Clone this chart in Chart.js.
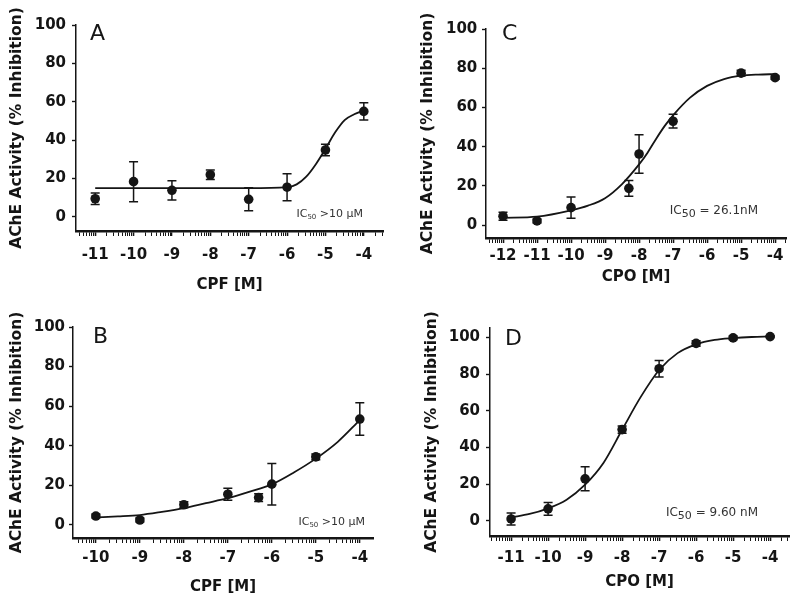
<!DOCTYPE html>
<html>
<head>
<meta charset="utf-8">
<script src="https://cdn.jsdelivr.net/npm/chart.js@4.4.1/dist/chart.umd.min.js"></script>
<style>
  body { margin: 0; background: #fff; }
  #wrap { position: relative; width: 800px; height: 603px; overflow: hidden; }
  canvas { position: absolute; }
</style>
</head>
<body>
<div id="wrap">
  <canvas id="chartA" width="400" height="300" style="left:0;top:0"></canvas>
  <canvas id="chartC" width="400" height="300" style="left:400px;top:0"></canvas>
  <canvas id="chartB" width="400" height="303" style="left:0;top:300px"></canvas>
  <canvas id="chartD" width="400" height="303" style="left:400px;top:300px"></canvas>
</div>
<script>
// AChE inhibition by CPF / CPO, log molar concentration vs % inhibition

// Panel A - CPF
const doseA = [-11, -10, -9, -8, -7, -6, -5, -4];
const inhibA = [9.5, 18.4, 13.9, 22.0, 9.2, 15.5, 34.9, 55.0];
const errA = [3.0, 10.4, 5.0, 2.5, 6.0, 7.0, 3.0, 4.5];
const fitXA = [-11, -10, -9, -8, -7, -6, -5.75, -5.5, -5.25, -5, -4.75, -4.5, -4.25, -4];
const fitYA = [15, 15, 15, 15, 15, 15.5, 17, 21, 27.5, 35.5, 44, 50.5, 53.5, 55.5];

// Panel B - CPF
const doseB = [-10, -9, -8, -7, -6.3, -6, -5, -4];
const inhibB = [4.5, 2.5, 10.2, 15.5, 13.8, 20.6, 34.4, 53.5];
const errB = [1.0, 1.0, 1.5, 3.0, 2.0, 10.5, 1.5, 8.2];
const fitXB = [-10, -9.5, -9, -8.5, -8, -7.5, -7, -6.5, -6, -5.5, -5, -4.5, -4];
const fitYB = [3.8, 4.3, 5, 6.6, 8.5, 11, 13.5, 16.8, 20.5, 26.5, 33.5, 42, 53];

// Panel C - CPO
const doseC = [-12, -11, -10, -8.3, -8, -7, -5, -4];
const inhibC = [4.6, 2.2, 9.0, 18.8, 36.3, 53.0, 77.5, 75.2];
const errC = [2.0, 1.0, 5.4, 4.0, 9.8, 3.5, 1.5, 0.8];
const fitXC = [-12, -11, -10, -9.5, -9, -8.5, -8, -7.75, -7.5, -7.25, -7, -6.5, -6, -5.5, -5, -4.5, -4];
const fitYC = [3.8, 4.4, 7.6, 10, 13.8, 21, 31, 37, 44, 50.5, 56, 65, 71, 74.5, 76.2, 76.8, 77];

// Panel D - CPO
const doseD = [-11, -10, -9, -8, -7, -6, -5, -4];
const inhibD = [1.1, 6.6, 23.0, 49.8, 83.0, 96.8, 99.8, 100.5];
const errD = [3.3, 3.5, 6.5, 2.0, 4.5, 1.5, 1.0, 0.5];
const fitXD = [-11, -10.5, -10, -9.5, -9, -8.5, -8, -7.5, -7, -6.5, -6, -5.5, -5, -4.5, -4];
const fitYD = [2, 3.8, 6.9, 11.6, 19.8, 31.8, 49.7, 67.5, 82.3, 91.5, 96.3, 98.7, 99.7, 100.3, 100.6];

const yTickValues = [0, 20, 40, 60, 80, 100];
const yTitle = "AChE Activity (% Inhibition)";

const INK = "#151515";
const FONT = "'DejaVu Sans', 'Liberation Sans', sans-serif";

// one entry per panel, layout tuned to the reference figure
const panels = [
  {
    id: "chartA", letter: "A", dose: doseA, inhib: inhibA, err: errA, fitX: fitXA, fitY: fitYA,
    xTitle: "CPF [M]", xMin: -11.5, xMax: -3.5, yMin: -7.3, yMax: 100,
    yWidth: 76, xHeight: 69, padRight: 17, padTop: 25,
    xLabelPad: 10, xTitlePad: 6, yLabelPad: 6, yTitlePad: 7.7,
    letterDx: 14, letterDy: 15,
    note: [["IC", 11, 0], ["50", 7, 2], [" >10 \u03bcM", 11, 0]], noteDx: 20, noteY: 0,
  },
  {
    id: "chartC", letter: "C", dose: doseC, inhib: inhibC, err: errC, fitX: fitXC, fitY: fitYC,
    xTitle: "CPO [M]", xMin: -12.5, xMax: -3.68, yMin: -6.5, yMax: 100,
    yWidth: 86, xHeight: 62, padRight: 14, padTop: 29,
    xLabelPad: 4, xTitlePad: 14, yLabelPad: 4.7, yTitlePad: 19,
    letterDx: 16, letterDy: 11,
    note: [["IC", 12, 0], ["50", 11, 3], [" = 26.1nM", 12, 0]], noteDx: 28, noteY: 5.7,
  },
  {
    id: "chartB", letter: "B", dose: doseB, inhib: inhibB, err: errB, fitX: fitXB, fitY: fitYB,
    xTitle: "CPF [M]", xMin: -10.52, xMax: -3.7, yMin: -6.6, yMax: 100,
    yWidth: 73, xHeight: 65, padRight: 27, padTop: 27,
    xLabelPad: 6, xTitlePad: 7.3, yLabelPad: 4, yTitlePad: 7.4,
    letterDx: 20, letterDy: 16,
    note: [["IC", 11, 0], ["50", 7, 2], [" >10 \u03bcM", 11, 0]], noteDx: 8, noteY: 0,
  },
  {
    id: "chartD", letter: "D", dose: doseD, inhib: inhibD, err: errD, fitX: fitXD, fitY: fitYD,
    xTitle: "CPO [M]", xMin: -11.57, xMax: -3.49, yMin: -8.2, yMax: 105.2,
    yWidth: 90, xHeight: 67, padRight: 11, padTop: 28,
    xLabelPad: 8, xTitlePad: 12.3, yLabelPad: 6, yTitlePad: 22.4,
    letterDx: 15, letterDy: 17,
    note: [["IC", 12, 0], ["50", 11, 3], [" = 9.60 nM", 12, 0]], noteDx: 31, noteY: 2.7,
  },
];

// major ticks on whole decades, minor ticks at log10(2..9) inside each decade
function logTicks(min, max) {
  const ticks = [];
  for (let d = Math.floor(min); d <= Math.ceil(max); d++) {
    if (d >= min && d <= max) ticks.push({ value: d, major: true });
    for (let k = 2; k <= 9; k++) {
      const v = d + Math.log10(k);
      if (v >= min && v <= max) ticks.push({ value: v, major: false });
    }
  }
  return ticks;
}

// error bars, panel letter and IC50 note
function panelExtras(p) {
  return {
    id: "extras" + p.letter,
    afterDatasetsDraw(chart) {
      const { ctx, chartArea } = chart;
      const x = chart.scales.x;
      const y = chart.scales.y;
      ctx.save();
      ctx.strokeStyle = INK;
      ctx.lineWidth = 1.5;
      p.dose.forEach((d, i) => {
        const px = x.getPixelForValue(d);
        const top = y.getPixelForValue(p.inhib[i] + p.err[i]);
        const bot = y.getPixelForValue(p.inhib[i] - p.err[i]);
        ctx.beginPath();
        ctx.moveTo(px, top);
        ctx.lineTo(px, bot);
        ctx.moveTo(px - 4.5, top);
        ctx.lineTo(px + 4.5, top);
        ctx.moveTo(px - 4.5, bot);
        ctx.lineTo(px + 4.5, bot);
        ctx.stroke();
      });

      ctx.fillStyle = INK;
      ctx.textBaseline = "alphabetic";
      ctx.textAlign = "left";
      ctx.font = "22px " + FONT;
      ctx.fillText(p.letter, chartArea.left + p.letterDx, chartArea.top + p.letterDy);

      // IC50 text with subscript, right aligned
      let total = 0;
      p.note.forEach(([t, size]) => {
        ctx.font = size + "px " + FONT;
        total += ctx.measureText(t).width;
      });
      let nx = chartArea.right - p.noteDx - total;
      const ny = y.getPixelForValue(p.noteY);
      ctx.fillStyle = "#333";
      p.note.forEach(([t, size, drop]) => {
        ctx.font = size + "px " + FONT;
        ctx.fillText(t, nx, ny + drop);
        nx += ctx.measureText(t).width;
      });
      ctx.restore();
    },
  };
}

panels.forEach((p) => {
  const ctx = document.getElementById(p.id).getContext("2d");
  new Chart(ctx, {
    type: "scatter",
    data: {
      datasets: [
        {
          label: "data",
          data: p.dose.map((d, i) => ({ x: d, y: p.inhib[i] })),
          showLine: false,
          pointRadius: 4.8,
          pointBackgroundColor: INK,
          pointBorderColor: INK,
          pointBorderWidth: 0,
          order: 1,
        },
        {
          label: "fit",
          data: p.fitX.map((d, i) => ({ x: d, y: p.fitY[i] })),
          showLine: true,
          pointRadius: 0,
          borderColor: INK,
          borderWidth: 1.8,
          cubicInterpolationMode: "monotone",
          fill: false,
          order: 2,
        },
      ],
    },
    options: {
      responsive: false,
      animation: false,
      events: [],
      layout: {
        padding: { top: p.padTop, right: p.padRight, left: 0, bottom: 0 },
      },
      plugins: {
        legend: { display: false },
        tooltip: { enabled: false },
      },
      scales: {
        x: {
          type: "linear",
          min: p.xMin,
          max: p.xMax,
          afterBuildTicks: (scale) => {
            scale.ticks = logTicks(p.xMin, p.xMax);
          },
          afterFit: (scale) => {
            scale.height = p.xHeight;
          },
          grid: {
            drawOnChartArea: false,
            drawTicks: true,
            tickLength: 5,
            tickColor: INK,
            tickWidth: (c) => (c.tick && c.tick.major ? 1.6 : 1),
          },
          border: { display: true, color: INK, width: 2.4 },
          ticks: {
            autoSkip: false,
            maxRotation: 0,
            padding: p.xLabelPad,
            color: INK,
            font: { family: FONT, size: 15, weight: "bold" },
            callback: (v) => (Number.isInteger(v) ? String(v) : ""),
          },
          title: {
            display: true,
            text: p.xTitle,
            color: INK,
            font: { family: FONT, size: 15, weight: "bold" },
            padding: { top: 0, bottom: p.xTitlePad },
          },
        },
        y: {
          type: "linear",
          min: p.yMin,
          max: p.yMax,
          afterBuildTicks: (scale) => {
            scale.ticks = yTickValues.map((v) => ({ value: v }));
          },
          afterFit: (scale) => {
            scale.width = p.yWidth;
          },
          grid: {
            drawOnChartArea: false,
            drawTicks: true,
            tickLength: 4,
            tickColor: INK,
            tickWidth: 1.4,
          },
          border: { display: true, color: INK, width: 1.5 },
          ticks: {
            padding: p.yLabelPad,
            color: INK,
            font: { family: FONT, size: 15, weight: "bold" },
          },
          title: {
            display: true,
            text: yTitle,
            color: INK,
            font: { family: FONT, size: 15.5, weight: "bold" },
            padding: { top: p.yTitlePad, bottom: 0 },
          },
        },
      },
    },
    plugins: [panelExtras(p)],
  });
});
</script>
</body>
</html>
